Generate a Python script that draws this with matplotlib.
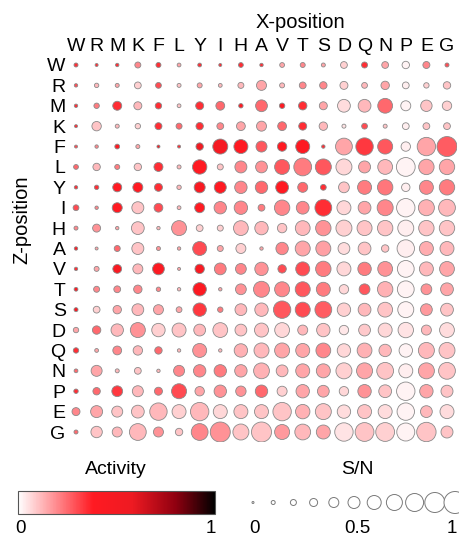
import numpy as np
import matplotlib
matplotlib.use("Agg")
import matplotlib.pyplot as plt
from matplotlib.colors import LinearSegmentedColormap, Normalize
from matplotlib.colorbar import ColorbarBase

plt.rcParams['font.family'] = ['Liberation Sans', 'DejaVu Sans']

aa = ['W', 'R', 'M', 'K', 'F', 'L', 'Y', 'I', 'H', 'A', 'V', 'T', 'S', 'D', 'Q', 'N', 'P', 'E', 'G']

# signal/noise (circle size), rows = Z-position, cols = X-position
sn = [
    [0.10, 0.05, 0.07, 0.20, 0.15, 0.09, 0.09, 0.05, 0.14, 0.07, 0.14, 0.15, 0.10, 0.24, 0.20, 0.24, 0.27, 0.25, 0.10],
    [0.07, 0.12, 0.10, 0.24, 0.19, 0.10, 0.15, 0.09, 0.20, 0.40, 0.15, 0.24, 0.27, 0.30, 0.19, 0.32, 0.24, 0.17, 0.27],
    [0.07, 0.17, 0.35, 0.30, 0.22, 0.09, 0.30, 0.34, 0.12, 0.49, 0.17, 0.32, 0.30, 0.54, 0.54, 0.64, 0.40, 0.47, 0.37],
    [0.05, 0.37, 0.10, 0.17, 0.25, 0.20, 0.27, 0.24, 0.34, 0.40, 0.34, 0.30, 0.32, 0.10, 0.19, 0.10, 0.24, 0.24, 0.24],
    [0.05, 0.07, 0.14, 0.10, 0.05, 0.05, 0.27, 0.65, 0.60, 0.45, 0.37, 0.60, 0.07, 0.74, 0.77, 0.65, 0.37, 0.82, 0.90],
    [0.14, 0.27, 0.15, 0.27, 0.35, 0.10, 0.62, 0.20, 0.50, 0.49, 0.65, 0.79, 0.70, 0.70, 0.50, 0.64, 0.84, 0.67, 0.67],
    [0.07, 0.12, 0.35, 0.40, 0.30, 0.12, 0.45, 0.50, 0.52, 0.52, 0.54, 0.40, 0.19, 0.44, 0.60, 0.67, 0.32, 0.60, 0.67],
    [0.19, 0.07, 0.40, 0.50, 0.34, 0.09, 0.40, 0.52, 0.57, 0.24, 0.67, 0.54, 0.74, 0.60, 0.54, 0.70, 0.82, 0.70, 0.74],
    [0.10, 0.30, 0.07, 0.54, 0.07, 0.65, 0.24, 0.20, 0.64, 0.57, 0.37, 0.64, 0.67, 0.70, 0.65, 0.67, 0.70, 0.67, 0.67],
    [0.07, 0.05, 0.20, 0.50, 0.10, 0.07, 0.60, 0.20, 0.40, 0.07, 0.52, 0.65, 0.65, 0.49, 0.54, 0.27, 0.77, 0.60, 0.60],
    [0.07, 0.15, 0.34, 0.40, 0.49, 0.05, 0.37, 0.49, 0.44, 0.57, 0.32, 0.60, 0.67, 0.60, 0.57, 0.64, 0.74, 0.60, 0.64],
    [0.09, 0.20, 0.24, 0.32, 0.12, 0.07, 0.57, 0.07, 0.44, 0.70, 0.65, 0.65, 0.60, 0.37, 0.44, 0.67, 0.74, 0.44, 0.54],
    [0.10, 0.24, 0.32, 0.49, 0.40, 0.19, 0.57, 0.17, 0.49, 0.57, 0.77, 0.65, 0.74, 0.57, 0.54, 0.64, 0.70, 0.49, 0.54],
    [0.17, 0.32, 0.52, 0.65, 0.57, 0.60, 0.49, 0.64, 0.49, 0.60, 0.64, 0.40, 0.57, 0.37, 0.49, 0.60, 0.67, 0.40, 0.64],
    [0.17, 0.09, 0.34, 0.37, 0.27, 0.07, 0.60, 0.07, 0.57, 0.65, 0.65, 0.60, 0.64, 0.57, 0.64, 0.52, 0.57, 0.70, 0.70],
    [0.09, 0.45, 0.10, 0.24, 0.07, 0.45, 0.52, 0.52, 0.52, 0.69, 0.49, 0.60, 0.60, 0.70, 0.70, 0.74, 0.60, 0.70, 0.74],
    [0.12, 0.27, 0.44, 0.45, 0.30, 0.65, 0.37, 0.52, 0.42, 0.52, 0.40, 0.57, 0.49, 0.37, 0.57, 0.54, 0.82, 0.57, 0.50],
    [0.30, 0.50, 0.45, 0.54, 0.77, 0.60, 0.82, 0.60, 0.60, 0.60, 0.82, 0.62, 0.70, 0.57, 0.60, 0.60, 0.77, 0.49, 0.60],
    [0.10, 0.47, 0.40, 0.74, 0.40, 0.27, 0.74, 0.90, 0.70, 0.90, 0.65, 0.69, 0.60, 0.82, 0.84, 0.84, 0.80, 0.87, 0.50],
]

# activity (circle colour)
activity = [
    [0.35, 0.35, 0.35, 0.20, 0.35, 0.15, 0.35, 0.35, 0.35, 0.35, 0.15, 0.20, 0.15, 0.08, 0.35, 0.15, 0.02, 0.20, 0.30],
    [0.30, 0.12, 0.15, 0.08, 0.30, 0.10, 0.15, 0.12, 0.12, 0.15, 0.12, 0.20, 0.20, 0.08, 0.12, 0.15, 0.03, 0.08, 0.10],
    [0.35, 0.22, 0.35, 0.12, 0.35, 0.10, 0.35, 0.25, 0.40, 0.25, 0.40, 0.35, 0.15, 0.06, 0.12, 0.25, 0.02, 0.10, 0.08],
    [0.35, 0.10, 0.12, 0.08, 0.35, 0.25, 0.35, 0.20, 0.15, 0.15, 0.25, 0.35, 0.12, 0.05, 0.30, 0.10, 0.03, 0.10, 0.10],
    [0.30, 0.20, 0.40, 0.15, 0.45, 0.35, 0.55, 0.50, 0.38, 0.28, 0.38, 0.40, 0.35, 0.15, 0.33, 0.28, 0.03, 0.15, 0.27],
    [0.25, 0.12, 0.22, 0.10, 0.35, 0.12, 0.38, 0.10, 0.20, 0.18, 0.28, 0.22, 0.28, 0.07, 0.15, 0.12, 0.02, 0.15, 0.15],
    [0.35, 0.35, 0.38, 0.38, 0.35, 0.12, 0.45, 0.38, 0.20, 0.25, 0.38, 0.25, 0.35, 0.10, 0.22, 0.23, 0.03, 0.20, 0.22],
    [0.30, 0.20, 0.38, 0.10, 0.30, 0.12, 0.38, 0.20, 0.20, 0.22, 0.20, 0.20, 0.35, 0.07, 0.15, 0.20, 0.02, 0.13, 0.12],
    [0.20, 0.18, 0.15, 0.10, 0.12, 0.18, 0.08, 0.08, 0.12, 0.12, 0.10, 0.12, 0.18, 0.08, 0.10, 0.10, 0.03, 0.10, 0.10],
    [0.40, 0.15, 0.25, 0.10, 0.18, 0.15, 0.30, 0.15, 0.08, 0.15, 0.20, 0.15, 0.16, 0.06, 0.10, 0.10, 0.03, 0.14, 0.12],
    [0.35, 0.15, 0.45, 0.12, 0.42, 0.15, 0.45, 0.22, 0.20, 0.18, 0.30, 0.30, 0.22, 0.07, 0.22, 0.18, 0.02, 0.12, 0.15],
    [0.40, 0.20, 0.20, 0.20, 0.20, 0.12, 0.42, 0.15, 0.18, 0.20, 0.20, 0.28, 0.22, 0.07, 0.28, 0.13, 0.02, 0.18, 0.15],
    [0.45, 0.08, 0.15, 0.12, 0.15, 0.15, 0.33, 0.22, 0.12, 0.12, 0.28, 0.30, 0.27, 0.08, 0.12, 0.10, 0.02, 0.17, 0.10],
    [0.15, 0.25, 0.12, 0.18, 0.08, 0.10, 0.12, 0.10, 0.10, 0.10, 0.07, 0.12, 0.10, 0.04, 0.09, 0.07, 0.05, 0.12, 0.06],
    [0.35, 0.15, 0.20, 0.12, 0.25, 0.12, 0.18, 0.12, 0.13, 0.12, 0.15, 0.15, 0.20, 0.07, 0.13, 0.12, 0.02, 0.12, 0.10],
    [0.25, 0.15, 0.12, 0.10, 0.12, 0.20, 0.20, 0.22, 0.15, 0.13, 0.12, 0.15, 0.15, 0.08, 0.15, 0.10, 0.03, 0.15, 0.10],
    [0.35, 0.25, 0.33, 0.12, 0.25, 0.30, 0.15, 0.18, 0.18, 0.25, 0.08, 0.15, 0.15, 0.07, 0.18, 0.10, 0.02, 0.15, 0.10],
    [0.20, 0.15, 0.10, 0.10, 0.12, 0.08, 0.12, 0.07, 0.10, 0.10, 0.10, 0.13, 0.10, 0.06, 0.10, 0.06, 0.02, 0.12, 0.06],
    [0.25, 0.10, 0.12, 0.12, 0.18, 0.10, 0.20, 0.18, 0.10, 0.10, 0.17, 0.12, 0.15, 0.05, 0.10, 0.08, 0.02, 0.10, 0.10],
]

legend_sn = [0, 0.1, 0.2, 0.3, 0.4, 0.5, 0.6, 0.7, 0.8, 0.9, 1.0]

cmap = LinearSegmentedColormap.from_list('act', [
    (0.0, '#ffffff'), (0.38, '#ff1a22'), (0.58, '#ee1a22'), (0.8, '#900010'), (1.0, '#000000')])
norm = Normalize(0, 1)

W, H = 459, 538
fig = plt.figure(figsize=(W / 100, H / 100), dpi=100)


def area(v):
    # circle diameter grows linearly with S/N
    d = (2 + 20 * np.asarray(v)) * 0.72
    return d ** 2


sn = np.array(sn)
activity = np.array(activity)
n = len(aa)
xx, yy = np.meshgrid(np.arange(n), np.arange(n))

ax = fig.add_axes([65.7 / W, 1 - 442.2 / H, 391.6 / W, 387.4 / H])
ax.scatter(xx.ravel(), yy.ravel(), s=area(sn.ravel()), c=activity.ravel(), cmap=cmap, norm=norm,
           edgecolors='#8a8a8a', linewidths=0.6, zorder=3)
ax.set_xlim(-0.5, n - 0.5)
ax.set_ylim(n - 0.5, -0.5)
ax.set_xticks(range(n))
ax.set_xticklabels(aa, fontsize=14)
ax.set_yticks(range(n))
ax.set_yticklabels(aa, fontsize=14)
ax.xaxis.tick_top()
ax.tick_params(length=0, pad=0)
for s in ax.spines.values():
    s.set_visible(False)
fig.text(300 / W, 1 - 22 / H, 'X-position', ha='center', va='center', fontsize=14.5)
fig.text(22 / W, 1 - 220 / H, 'Z-position', ha='center', va='center', fontsize=14.5, rotation=90)

# activity colour bar
cax = fig.add_axes([18 / W, 1 - 514 / H, 197 / W, 23 / H])
cb = ColorbarBase(cax, cmap=cmap, norm=norm, orientation='horizontal', ticks=[])
cb.outline.set_edgecolor('#555555')
cb.outline.set_linewidth(0.8)
fig.text(116 / W, 1 - 470 / H, 'Activity', ha='center', va='center', fontsize=14)
ybot = 1 - 537 / H
fig.text(21 / W, ybot, '0', ha='center', va='bottom', fontsize=13.5)
fig.text(211 / W, ybot, '1', ha='center', va='bottom', fontsize=13.5)

# S/N size legend
lax = fig.add_axes([253 / W, 1 - 514 / H, 202 / W, 23 / H])
lax.scatter(legend_sn, [0] * len(legend_sn), s=area(legend_sn), facecolors='white',
            edgecolors='#7a7a7a', linewidths=0.7, clip_on=False)
lax.set_xlim(0, 1)
lax.set_ylim(-1, 1)
lax.axis('off')
fig.text(357 / W, 1 - 470 / H, 'S/N', ha='center', va='center', fontsize=14)
fig.text(254 / W, ybot, '0', ha='center', va='bottom', fontsize=13.5)
fig.text(357 / W, ybot, '0.5', ha='center', va='bottom', fontsize=13.5)
fig.text(452 / W, ybot, '1', ha='center', va='bottom', fontsize=13.5)

fig.savefig('out.png', dpi=100, facecolor='white')
